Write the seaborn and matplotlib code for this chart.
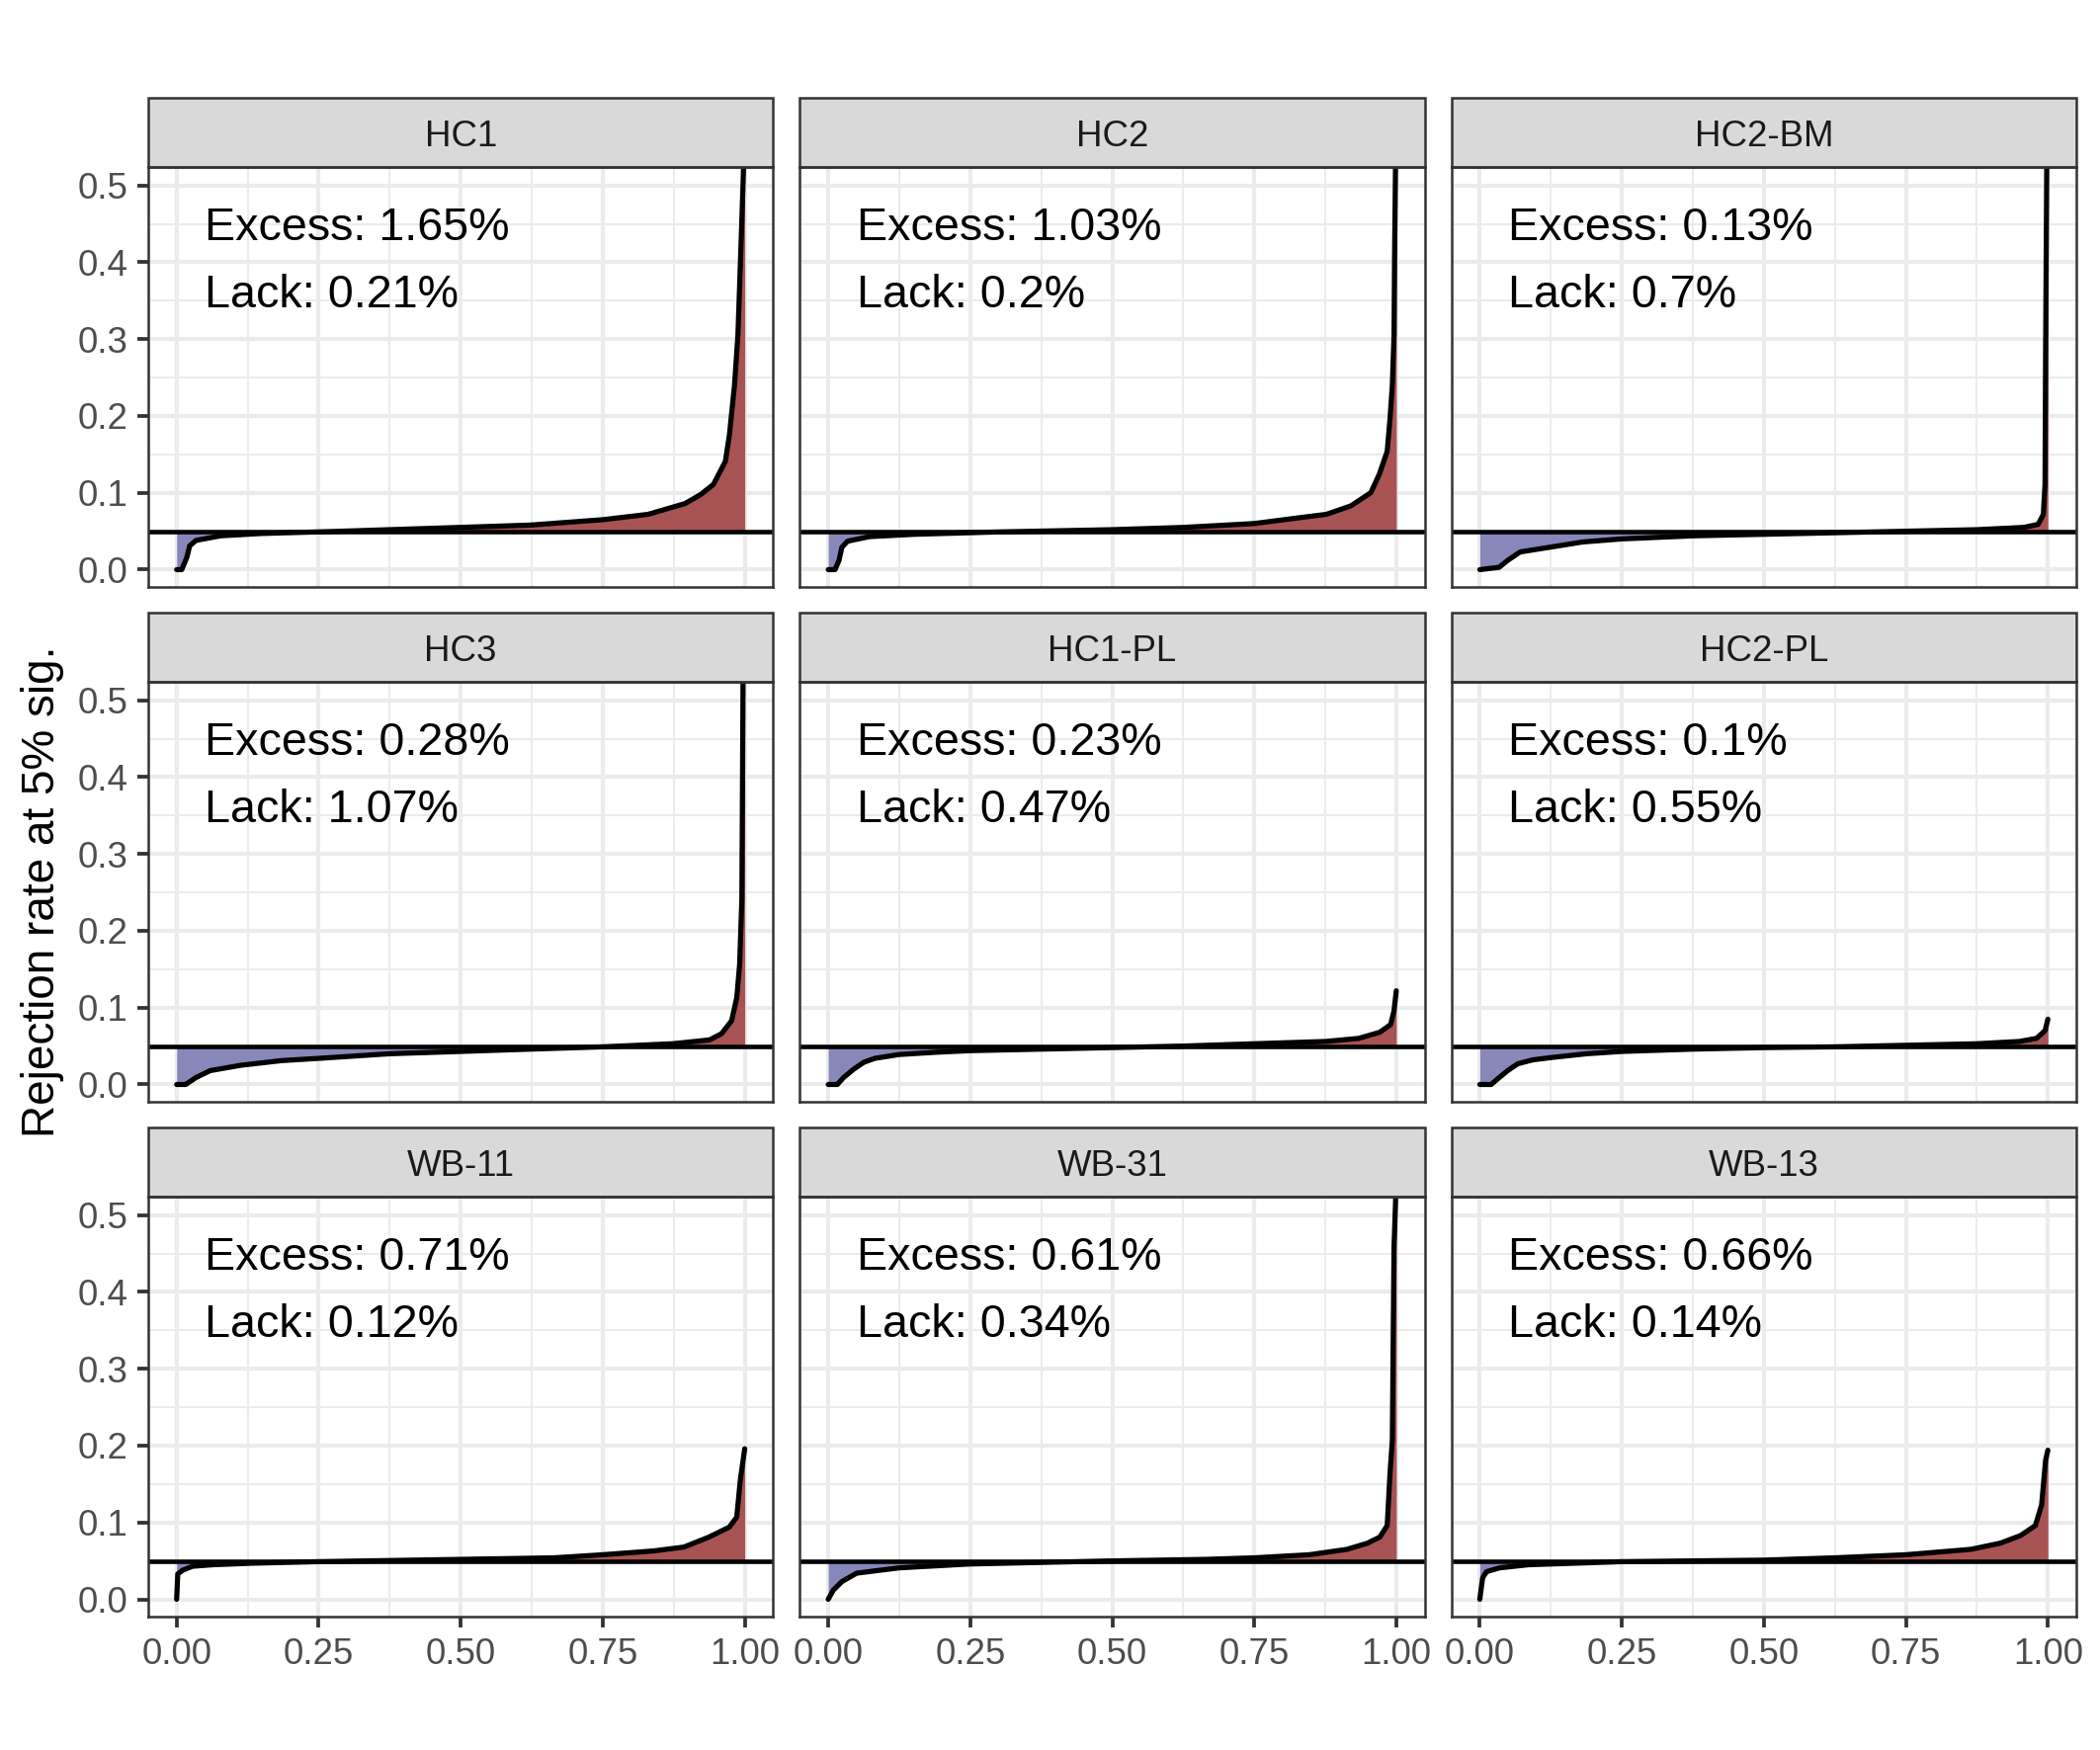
import pandas as pd
import matplotlib.pyplot as plt
import seaborn as sns
from matplotlib.patches import Rectangle
from matplotlib.ticker import MultipleLocator

# Panels in facet order
tests = ["HC1", "HC2", "HC2-BM", "HC3", "HC1-PL", "HC2-PL", "WB-11", "WB-31", "WB-13"]
excess = [1.65, 1.03, 0.13, 0.28, 0.23, 0.1, 0.71, 0.61, 0.66]
lack = [0.21, 0.2, 0.7, 1.07, 0.47, 0.55, 0.12, 0.34, 0.14]

# Sorted rejection rates (quantile position -> rate)
hc1_q = [0, 0.009, 0.018, 0.023, 0.034, 0.077, 0.148, 0.29, 0.5, 0.623, 0.75, 0.83, 0.895,
         0.923, 0.945, 0.966, 0.973, 0.982, 0.988, 0.993, 0.998, 1.0]
hc1_r = [0.0, 0.0, 0.016, 0.031, 0.038, 0.044, 0.047, 0.05, 0.055, 0.058, 0.065, 0.072, 0.086,
         0.098, 0.111, 0.141, 0.175, 0.24, 0.305, 0.412, 0.524, 0.60]

hc2_q = [0, 0.012, 0.019, 0.024, 0.034, 0.073, 0.152, 0.296, 0.5, 0.626, 0.75, 0.834, 0.877,
         0.92, 0.955, 0.97, 0.984, 0.989, 0.993, 0.996, 0.997, 0.9986, 1.0]
hc2_r = [0.0, 0.0, 0.012, 0.029, 0.037, 0.043, 0.046, 0.049, 0.052, 0.055, 0.060, 0.068, 0.072,
         0.083, 0.100, 0.124, 0.154, 0.197, 0.24, 0.305, 0.41, 0.524, 0.60]

hc2bm_q = [0, 0.034, 0.049, 0.071, 0.122, 0.181, 0.25, 0.375, 0.5, 0.625, 0.75, 0.875, 0.958,
           0.983, 0.992, 0.995, 0.996, 0.998, 1.0]
hc2bm_r = [0.0, 0.003, 0.012, 0.023, 0.029, 0.036, 0.040, 0.044, 0.046, 0.048, 0.050, 0.052, 0.055,
           0.059, 0.072, 0.111, 0.283, 0.524, 0.60]

hc3_q = [0, 0.016, 0.034, 0.059, 0.113, 0.184, 0.25, 0.375, 0.5, 0.623, 0.75, 0.873, 0.938,
         0.959, 0.977, 0.986, 0.991, 0.995, 0.997, 1.0]
hc3_r = [0.0, 0.0, 0.009, 0.018, 0.025, 0.031, 0.034, 0.040, 0.043, 0.046, 0.049, 0.053, 0.058,
         0.066, 0.083, 0.113, 0.156, 0.242, 0.524, 0.60]

hc1pl_q = [0, 0.016, 0.027, 0.045, 0.063, 0.082, 0.125, 0.191, 0.25, 0.376, 0.5, 0.625, 0.75,
           0.876, 0.934, 0.971, 0.99, 0.996, 1.0]
hc1pl_r = [0.0, 0.0, 0.009, 0.020, 0.029, 0.034, 0.039, 0.042, 0.044, 0.046, 0.048, 0.050, 0.053,
           0.056, 0.060, 0.068, 0.078, 0.096, 0.122]

hc2pl_q = [0, 0.02, 0.031, 0.049, 0.067, 0.093, 0.125, 0.188, 0.25, 0.375, 0.5, 0.625, 0.75,
           0.875, 0.95, 0.98, 0.995, 1.0]
hc2pl_r = [0.0, 0.0, 0.007, 0.018, 0.027, 0.032, 0.035, 0.040, 0.043, 0.046, 0.048, 0.049, 0.051,
           0.053, 0.056, 0.060, 0.070, 0.085]

wb11_q = [0, 0.002, 0.011, 0.028, 0.064, 0.134, 0.25, 0.5, 0.664, 0.75, 0.84, 0.893, 0.937,
          0.973, 0.986, 0.992, 1.0]
wb11_r = [0.0, 0.033, 0.038, 0.043, 0.045, 0.047, 0.049, 0.052, 0.054, 0.058, 0.063, 0.068, 0.081,
          0.094, 0.107, 0.154, 0.196]

wb31_q = [0, 0.009, 0.024, 0.05, 0.082, 0.126, 0.25, 0.5, 0.665, 0.75, 0.847, 0.913, 0.949,
          0.971, 0.984, 0.989, 0.993, 0.996, 0.999, 1.0]
wb31_r = [0.0, 0.012, 0.023, 0.034, 0.037, 0.041, 0.046, 0.050, 0.052, 0.054, 0.058, 0.065, 0.073,
          0.081, 0.096, 0.165, 0.207, 0.459, 0.524, 0.60]

wb13_q = [0, 0.005, 0.012, 0.035, 0.086, 0.25, 0.5, 0.625, 0.75, 0.864, 0.916, 0.952, 0.978,
          0.989, 0.996, 1.0]
wb13_r = [0.0, 0.028, 0.036, 0.041, 0.045, 0.049, 0.051, 0.054, 0.058, 0.065, 0.073, 0.083, 0.096,
          0.123, 0.181, 0.194]

curves = {
    "HC1": (hc1_q, hc1_r), "HC2": (hc2_q, hc2_r), "HC2-BM": (hc2bm_q, hc2bm_r),
    "HC3": (hc3_q, hc3_r), "HC1-PL": (hc1pl_q, hc1pl_r), "HC2-PL": (hc2pl_q, hc2pl_r),
    "WB-11": (wb11_q, wb11_r), "WB-31": (wb31_q, wb31_r), "WB-13": (wb13_q, wb13_r),
}
nominal = 0.05

df = pd.concat(
    [pd.DataFrame({"test": t, "q": curves[t][0], "rate": curves[t][1]}) for t in tests],
    ignore_index=True,
)

sns.set_theme(style="white")
plt.rcParams["font.family"] = ["Liberation Sans", "DejaVu Sans"]

g = sns.FacetGrid(df, col="test", col_wrap=3, col_order=tests, sharex=True, sharey=True,
                  height=2, aspect=1.4, despine=False)
fig = g.figure
fig.set_size_inches(2125 / 300, 1771 / 300)
fig.subplots_adjust(left=150 / 2125, right=2101 / 2125, top=1 - 169 / 1771,
                    bottom=1 - 1636 / 1771, wspace=0.0427, hspace=0.226)

strip_h = 70 / 425
for i, t in enumerate(tests):
    ax = g.axes_dict[t]
    sub = df[df["test"] == t]
    x = sub["q"].to_numpy()
    y = sub["rate"].to_numpy()

    ax.fill_between(x, y, nominal, where=y >= nominal, interpolate=True,
                    color="#A85353", lw=0, zorder=2)
    ax.fill_between(x, y, nominal, where=y <= nominal, interpolate=True,
                    color="#8787BA", lw=0, zorder=2)
    sns.lineplot(data=sub, x="q", y="rate", ax=ax, color="black", lw=1.25,
                 estimator=None, sort=False, zorder=4, solid_joinstyle="round")
    ax.axhline(nominal, color="black", lw=1.1, zorder=5)

    ax.set_xlim(-0.05, 1.05)
    ax.set_ylim(-0.0225, 0.524)
    ax.xaxis.set_major_locator(MultipleLocator(0.25))
    ax.xaxis.set_minor_locator(MultipleLocator(0.125))
    ax.yaxis.set_major_locator(MultipleLocator(0.1))
    ax.yaxis.set_minor_locator(MultipleLocator(0.05))
    ax.set_axisbelow(True)
    ax.grid(which="major", color="#EBEBEB", lw=1.0)
    ax.grid(which="minor", color="#EBEBEB", lw=0.5)
    ax.set_facecolor("white")
    for s in ax.spines.values():
        s.set_color("#333333")
        s.set_linewidth(0.6)
        s.set_zorder(6)

    ax.tick_params(which="major", length=2.75, width=0.9, color="#333333", pad=2.2,
                   labelsize=8.8, labelcolor="#4D4D4D", left=True, bottom=True)
    ax.tick_params(which="minor", length=0)
    if i % 3 != 0:
        ax.tick_params(axis="y", length=0)
    if i < 6:
        ax.tick_params(axis="x", length=0)
    ax.set_xticks([0, 0.25, 0.5, 0.75, 1.0])
    ax.set_xticklabels(["0.00", "0.25", "0.50", "0.75", "1.00"])
    ax.set_yticks([0, 0.1, 0.2, 0.3, 0.4, 0.5])
    ax.set_yticklabels(["0.0", "0.1", "0.2", "0.3", "0.4", "0.5"])
    ax.set_xlabel("")
    ax.set_ylabel("")
    ax.set_title("")

    # facet strip
    ax.add_patch(Rectangle((0, 1), 1, strip_h, transform=ax.transAxes, clip_on=False,
                           facecolor="#D9D9D9", edgecolor="#333333", lw=0.6, zorder=6))
    ax.text(0.5, 1 + strip_h / 2, t, transform=ax.transAxes, ha="center",
            va="center_baseline", fontsize=8.8, color="#1A1A1A", zorder=8, clip_on=False)

    ax.text(0.05, 0.429, f"Excess: {excess[i]:g}%", ha="left", va="baseline",
            fontsize=11.2, color="black", zorder=7)
    ax.text(0.05, 0.341, f"Lack: {lack[i]:g}%", ha="left", va="baseline",
            fontsize=11.2, color="black", zorder=7)

for i, t in enumerate(tests):
    ax = g.axes_dict[t]
    if i % 3 != 0:
        plt.setp(ax.get_yticklabels(), visible=False)
    if i < 6:
        plt.setp(ax.get_xticklabels(), visible=False)

fig.text(43 / 2125, 1 - 902 / 1771, "Rejection rate at 5% sig.", rotation=90,
         ha="center", va="center", fontsize=11, color="black")

fig.savefig("out.png", dpi=300, facecolor="white")
